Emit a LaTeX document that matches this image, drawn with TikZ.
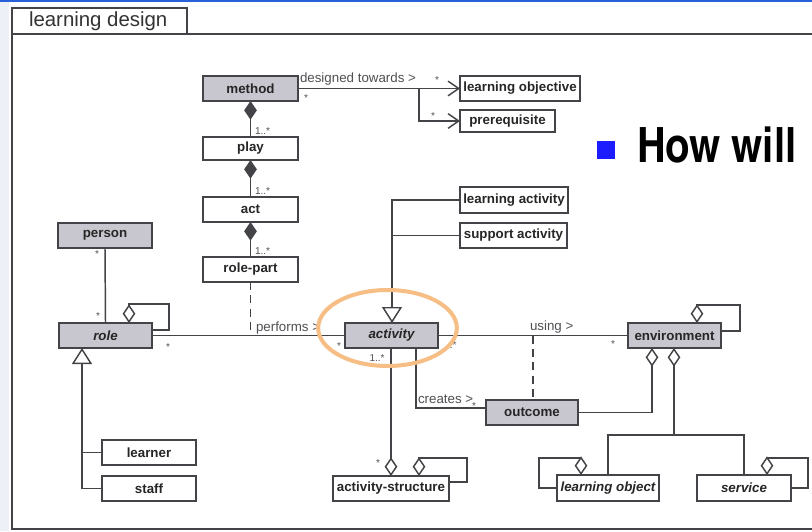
\documentclass[tikz,border=0pt]{standalone}
\usepackage{fontspec}
\setmainfont{Liberation Sans}
\newfontfamily\headfont{texgyreheroscn-bold.otf}
\usetikzlibrary{arrows.meta}

\definecolor{boxgray}{RGB}{200,198,206}
\definecolor{linegray}{RGB}{68,68,72}
\definecolor{txtgray}{RGB}{80,80,84}
\definecolor{hiorange}{RGB}{246,190,132}
\definecolor{bulletblue}{RGB}{28,28,255}
\definecolor{topblue}{RGB}{40,96,215}
\definecolor{sidetint}{RGB}{238,240,248}

\begin{document}
\begin{tikzpicture}[x=0.75pt,y=-0.75pt,
  every node/.style={inner sep=0pt, outer sep=0pt},
  dims/.style 2 args={minimum width=#1*0.75pt, minimum height=#2*0.75pt},
  umlbox/.style={draw=linegray, line width=1.2pt, fill=white, text=black!85,
                 font=\bfseries\fontsize{10}{12}\selectfont},
  shaded/.style={fill=boxgray},
  abstract/.style={font=\bfseries\itshape\fontsize{10}{12}\selectfont},
  conn/.style={draw=linegray, line width=1.1pt},
  dashlink/.style={conn, dash pattern=on 6pt off 4pt},
  assoc/.style={conn, -{Straight Barb[length=8pt,width=11pt]}},
  compo/.style={conn, {Diamond[length=14pt,width=9.5pt]}-},
  aggr/.style={conn, {Diamond[open,length=14pt,width=9.5pt,fill=white]}-},
  inherit/.style={conn, -{Triangle[open,length=12pt,width=15pt,fill=white]}},
  lbl/.style={text=txtgray, font=\fontsize{10}{12}\selectfont},
  mult/.style={text=txtgray, font=\fontsize{7.5}{8}\selectfont},
]
\useasboundingbox (0,0) rectangle (812,531);
\fill[white] (0,0) rectangle (812,531);
\fill[sidetint] (0,0) rectangle (9,531);
\fill[topblue] (0,0) rectangle (812,2.5);

% package frame with its name tab
\draw[linegray, line width=1.1pt] (812,34) -- (12,34) -- (12,529) -- (812,529);
\draw[linegray, line width=1.1pt] (12,8) rectangle (187,34);
\node[anchor=base west, text=black!80, font=\fontsize{15.3}{18}\selectfont] (title) at (29,27) {learning design};

% classes
\node[umlbox, shaded, dims={95}{25}] (method) at (250.5,88.5) {method};
\node[umlbox, dims={120}{25}] (lobj) at (520,88.5) {learning objective};
\node[umlbox, dims={95}{22}] (prereq) at (507.5,121) {prerequisite};
\node[umlbox, dims={95}{23}] (play) at (250.5,148.5) {play};
\node[umlbox, dims={95}{25}] (act) at (250.5,209.5) {act};
\node[umlbox, dims={95}{25}] (rolepart) at (250.5,269.5) {role-part};
\node[umlbox, shaded, dims={94}{25}] (person) at (105,235.5) {person};
\node[umlbox, shaded, abstract, dims={93}{25}] (role) at (105.5,335.5) {role};
\node[umlbox, shaded, abstract, dims={93}{25}] (activity) at (391.5,335.5) {activity};
\node[umlbox, dims={108}{26}] (lact) at (514,200) {learning activity};
\node[umlbox, dims={107}{25}] (sact) at (513.5,235.5) {support activity};
\node[umlbox, shaded, dims={93}{25}] (env) at (674.5,335.5) {environment};
\node[umlbox, shaded, dims={92}{25}] (outcome) at (532,412.5) {outcome};
\node[umlbox, dims={94}{25}] (learner) at (149,452.5) {learner};
\node[umlbox, dims={94}{25}] (staff) at (149,488.5) {staff};
\node[umlbox, dims={116}{25}] (astruct) at (391,488.5) {activity-structure};
\node[umlbox, abstract, dims={102}{26}] (lobject) at (608,488) {learning object};
\node[umlbox, abstract, dims={94}{26}] (service) at (744,488) {service};

% method aims
\coordinate (brk) at (419,88.5);
\draw[assoc] (method.east) -- (lobj.west);
\draw[assoc] (brk) |- (prereq.west);
\node[lbl, anchor=base west] (dtl) at (300,83) {designed towards >};
\node[mult] at (437,80) {*};
\node[mult] at (306,98) {*};
\node[mult] at (433,116) {*};

% method / play / act / role-part composition
\draw[compo] (method.south) -- (play.north);
\draw[compo] (play.south) -- (act.north);
\draw[compo] (act.south) -- (rolepart.north);
\node[mult, anchor=west] at (255,131) {1..*};
\node[mult, anchor=west] at (255,191) {1..*};
\node[mult, anchor=west] at (255,251) {1..*};

% role performs activity
\coordinate (pf) at (250.5,335.5);
\draw[conn] (role.east) -- (activity.west);
\draw[dashlink] (rolepart.south) -- (pf);
\node[lbl, anchor=base west] at (256,331) {performs >};
\node[mult] at (168,347) {*};
\node[mult] at (339,346) {*};

% person and role
\draw[conn] (person.south) -- (role.north);
\node[mult] at (97,254) {*};
\node[mult] at (98,316) {*};
\coordinate (rdx) at (129,0);
\draw[aggr] (role.north -| rdx) -- ++(0,-19) -- ++(40,0) |- ([yshift=4pt]role.east);

% role kinds
\coordinate (gx) at (82,0);
\draw[inherit] (staff.west) -| (role.south -| gx);
\draw[conn] (learner.west) -- (learner.west -| gx);

% activity kinds
\coordinate (ax) at (392,0);
\draw[inherit] (lact.west) -| (activity.north -| ax);
\draw[conn] (sact.west) -- (sact.west -| ax);

% activity uses environment
\draw[conn] (activity.east) -- (env.west);
\coordinate (ux) at (533,335.5);
\draw[dashlink] (ux) -- (outcome.north -| ux);
\node[lbl, anchor=base west] at (530,330) {using >};
\node[mult, anchor=west] at (447,345) {..*};
\node[mult] at (613,344) {*};

% activity creates outcome
\coordinate (cx) at (416,0);
\draw[conn] (activity.south -| cx) |- ([yshift=3.4pt]outcome.west);
\node[lbl, anchor=base west] at (418,403) {creates >};
\node[mult] at (474,406) {*};

% activity-structure
\coordinate (sx) at (391,0);
\draw[aggr] (astruct.north -| sx) -- (activity.south -| sx);
\node[mult] at (377,358) {1..*};
\node[mult] at (378,463) {*};
\coordinate (sx2) at (419,0);
\draw[aggr] (astruct.north -| sx2) -- ++(0,-18) -- ++(48,0) |- ([yshift=4.9pt]astruct.east);

% environment contents
\coordinate (ex) at (697,0);
\draw[aggr] (env.north -| ex) -- ++(0,-18) -- ++(43,0) |- ([yshift=3.4pt]env.east);
\coordinate (eo) at (652,0);
\draw[aggr] (env.south -| eo) |- (outcome.east);
\coordinate (ej) at (674,435);
\draw[aggr] (env.south -| ej) -- (ej);
\draw[conn] (lobject.north) |- (ej) -| (service.north);
\coordinate (lx) at (581,0);
\draw[aggr] (lobject.north -| lx) -- ++(0,-17) -- ++(-42,0) |- (lobject.west);
\coordinate (vx) at (767,0);
\draw[aggr] (service.north -| vx) -- ++(0,-17) -- ++(41,0) |- (service.east);

% highlight and slide text
\draw[hiorange, line width=3pt] (387.5,328) ellipse [x radius=52pt, y radius=28.5pt];
\fill[bulletblue] (597,141) rectangle (615,159);
\node[anchor=base west, text=black, font=\headfont\fontsize{36.5}{40}\selectfont] (how) at (637,162) {How will};
\end{tikzpicture}
\end{document}
